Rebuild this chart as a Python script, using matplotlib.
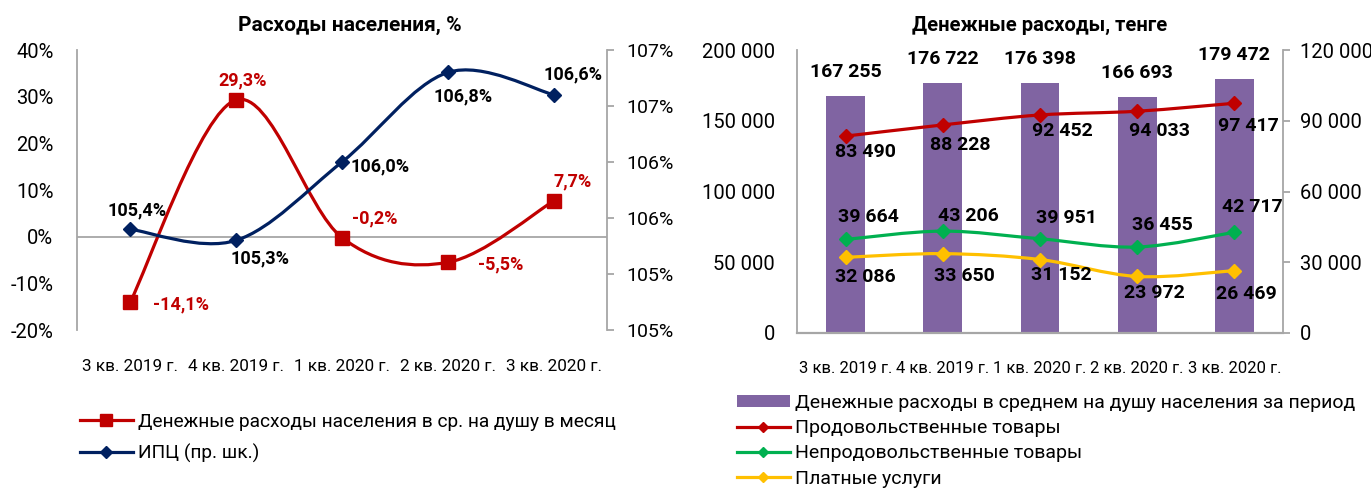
import numpy as np
import matplotlib
matplotlib.use("Agg")
import matplotlib.pyplot as plt
from matplotlib.path import Path
from matplotlib.patches import PathPatch
from matplotlib.lines import Line2D
from matplotlib.patches import Patch

plt.rcParams['font.family'] = ['Roboto', 'DejaVu Sans']

# ---------------- data ----------------
categories = ["3 кв. 2019 г.", "4 кв. 2019 г.", "1 кв. 2020 г.", "2 кв. 2020 г.", "3 кв. 2020 г."]

spend_growth = [-14.1, 29.3, -0.2, -5.5, 7.7]          # %
cpi = [105.4, 105.3, 106.0, 106.8, 106.6]              # %

total_spend = [167255, 176722, 176398, 166693, 179472]
food = [83490, 88228, 92452, 94033, 97417]
nonfood = [39664, 43206, 39951, 36455, 42717]
services = [32086, 33650, 31152, 23972, 26469]

left_title = "Расходы населения, %"
right_title = "Денежные расходы, тенге"
lbl_growth = "Денежные расходы населения в ср. на душу в месяц"
lbl_cpi = "ИПЦ (пр. шк.)"
lbl_total = "Денежные расходы в среднем на душу населения за период"
lbl_food = "Продовольственные товары"
lbl_nonfood = "Непродовольственные товары"
lbl_serv = "Платные услуги"

RED = "#C00000"
NAVY = "#002060"
PURPLE = "#8064A2"
GREEN = "#00B050"
YELLOW = "#FFC000"
GRAY = "#A6A6A6"

W, H = 1371, 488
fig = plt.figure(figsize=(W / 100, H / 100), dpi=100)


def px_axes(l, t, r, b):
    return fig.add_axes([l / W, 1 - b / H, (r - l) / W, (b - t) / H])


def smooth_path(xs, ys):
    xs = np.asarray(xs, float)
    ys = np.asarray(ys, float)
    P = np.column_stack([xs, ys])
    n = len(P)
    verts = [P[0]]
    codes = [Path.MOVETO]
    for i in range(n - 1):
        p0 = P[i - 1] if i > 0 else P[i]
        p1 = P[i]
        p2 = P[i + 1]
        p3 = P[i + 2] if i + 2 < n else P[i + 1]
        c1 = p1 + (p2 - p0) / 6.0
        c2 = p2 - (p3 - p1) / 6.0
        verts += [c1, c2, p2]
        codes += [Path.CURVE4] * 3
    return Path(verts, codes)


def draw_smooth(ax, xs, ys, color, lw=2.3, marker='D', ms=7):
    ax.add_patch(PathPatch(smooth_path(xs, ys), fill=False, edgecolor=color,
                           lw=lw, capstyle='round', joinstyle='round', zorder=3))
    ax.plot(xs, ys, ls='none', marker=marker, color=color, ms=ms, zorder=4)


def fmt_sp(v):
    return f"{v:,}".replace(",", " ")


def label(ax, xv, yv, text, off, color='black', size=13):
    # off: label centre offset from the point, in pixels (dx right, dy up)
    ax.annotate(text, (xv, yv), xytext=off, textcoords='offset pixels',
                ha='center', va='center', color=color, fontsize=size,
                fontweight='bold', zorder=6)


x = np.arange(len(categories))

# ---------------- left chart ----------------
axL = px_axes(77, 50, 607, 330)
axL2 = axL.twinx()
axL.set_xlim(-0.5, 4.5)
axL.set_ylim(-20, 40)
axL.set_yticks(np.arange(-20, 41, 10))
axL.set_yticklabels([f"{int(v)}%" for v in np.arange(-20, 41, 10)], fontsize=14.5)
axL.tick_params(axis='y', length=0, pad=17)
axL.set_xticks(x)
axL.set_xticklabels(categories, fontsize=12.3)
axL.tick_params(axis='x', length=0, pad=21)
for s in ['top', 'bottom', 'right']:
    axL.spines[s].set_visible(False)
axL.spines['left'].set_color(GRAY)
axL.spines['left'].set_linewidth(1.3)
axL.axhline(0, color=GRAY, lw=1.3, zorder=1)

axL2.set_ylim(104.5, 107.0)
r_ticks = np.arange(104.5, 107.01, 0.5)
axL2.set_yticks(r_ticks)
axL2.set_yticklabels([f"{int(np.floor(v + 0.5))}%" for v in r_ticks], fontsize=14)
axL2.tick_params(axis='y', length=5, width=1.3, color=GRAY, pad=9)
for s in ['top', 'bottom', 'left']:
    axL2.spines[s].set_visible(False)
axL2.spines['right'].set_color(GRAY)
axL2.spines['right'].set_linewidth(1.3)

draw_smooth(axL, x, spend_growth, RED, marker='s', ms=10)
draw_smooth(axL2, x, cpi, NAVY, marker='D', ms=7)

g_off = [(51, -2), (7, 19), (33, 19), (53, -2), (19, 19)]
for i, v in enumerate(spend_growth):
    label(axL, x[i], v, f"{v:.1f}%".replace(".", ","), g_off[i], color=RED)
c_off = [(7, 19), (24, -18), (38, -4), (15, -24), (19, 20)]
for i, v in enumerate(cpi):
    label(axL2, x[i], v, f"{v:.1f}%".replace(".", ","), c_off[i])

fig.text(350 / W, 1 - 25 / H, left_title, ha='center', va='center',
         fontsize=15, fontweight='bold')

hL = [Line2D([], [], color=RED, lw=2.3, marker='s', ms=9),
      Line2D([], [], color=NAVY, lw=2.3, marker='D', ms=6)]
fig.legend(hL, [lbl_growth, lbl_cpi], loc='upper left',
           bbox_to_anchor=(80 / W, 1 - 413 / H), frameon=False, fontsize=13.8,
           handlelength=2.75, handletextpad=0.26, labelspacing=0.65, borderpad=0,
           borderaxespad=0)

# ---------------- right chart ----------------
axR = px_axes(797, 50, 1283, 333)
axR2 = axR.twinx()
axR.set_xlim(-0.5, 4.5)
axR.set_ylim(0, 200000)
lt = np.arange(0, 200001, 50000)
axR.set_yticks(lt)
axR.set_yticklabels([fmt_sp(int(v)) for v in lt], fontsize=14.5)
axR.tick_params(axis='y', length=0, pad=16)
axR.set_xticks(x)
axR.set_xticklabels(categories, fontsize=12)
axR.tick_params(axis='x', length=0, pad=20)
for s in ['top', 'right']:
    axR.spines[s].set_visible(False)
axR.spines['left'].set_color(GRAY)
axR.spines['left'].set_linewidth(1.3)
axR.spines['bottom'].set_color(GRAY)
axR.spines['bottom'].set_linewidth(1.6)

axR2.set_ylim(0, 120000)
rt = np.arange(0, 120001, 30000)
axR2.set_yticks(rt)
axR2.set_yticklabels([fmt_sp(int(v)) for v in rt], fontsize=14.5)
axR2.tick_params(axis='y', length=5, width=1.3, color=GRAY, pad=7)
for s in ['top', 'bottom', 'left']:
    axR2.spines[s].set_visible(False)
axR2.spines['right'].set_color(GRAY)
axR2.spines['right'].set_linewidth(1.3)

axR.bar(x, total_spend, width=0.4, color=PURPLE, zorder=2)
for i, v in enumerate(total_spend):
    label(axR, x[i], v, fmt_sp(v), (0, 24), size=14)

axR.set_zorder(1)
axR2.set_zorder(2)
axR.patch.set_visible(True)
axR2.patch.set_visible(False)

draw_smooth(axR2, x, food, RED)
draw_smooth(axR2, x, nonfood, GREEN)
draw_smooth(axR2, x, services, YELLOW)

food_off = [(20, -16), (17, -20), (22, -16), (22, -20), (14, -23)]
nf_off = [(23, 22), (26, 15), (26, 21), (25, 22), (18, 25)]
sv_off = [(20, -20), (22, -22), (21, -15), (17, -17), (12, -23)]
for i in range(len(x)):
    label(axR2, x[i], food[i], fmt_sp(food[i]), food_off[i], size=14)
    label(axR2, x[i], nonfood[i], fmt_sp(nonfood[i]), nf_off[i], size=14)
    label(axR2, x[i], services[i], fmt_sp(services[i]), sv_off[i], size=14)

fig.text(1040 / W, 1 - 25 / H, right_title, ha='center', va='center',
         fontsize=14.5, fontweight='bold')

hR = [Patch(facecolor=PURPLE),
      Line2D([], [], color=RED, lw=2.3, marker='D', ms=5),
      Line2D([], [], color=GREEN, lw=2.3, marker='D', ms=5),
      Line2D([], [], color=YELLOW, lw=2.3, marker='D', ms=5)]
fig.legend(hR, [lbl_total, lbl_food, lbl_nonfood, lbl_serv], loc='upper left',
           bbox_to_anchor=(737 / W, 1 - 394 / H), frameon=False, fontsize=14,
           handlelength=2.7, handleheight=0.55, handletextpad=0.26,
           labelspacing=0.37, borderpad=0, borderaxespad=0)

fig.savefig("out.png", dpi=100)
